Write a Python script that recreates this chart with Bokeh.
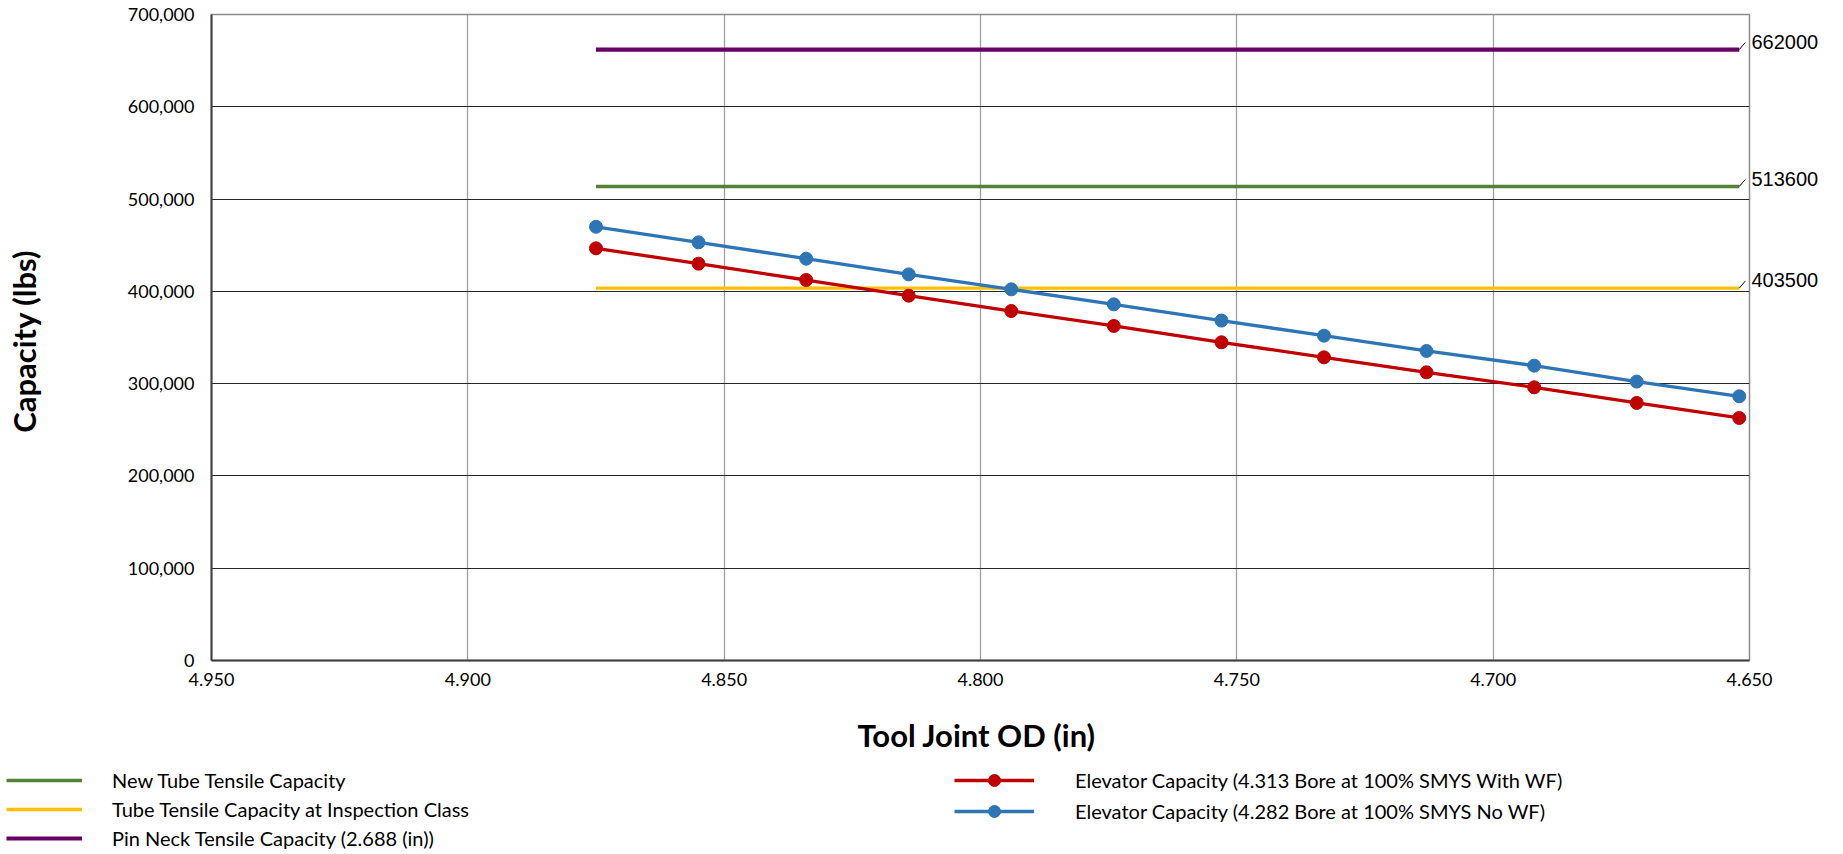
from bokeh.plotting import figure
from bokeh.models import (Range1d, FixedTicker, NumeralTickFormatter, Legend, LegendItem,
                          ColumnDataSource, LinearAxis)
from bokeh.layouts import column
from bokeh.embed import file_html
from bokeh.resources import INLINE

# ---- data ----
tool_joint_od = [4.875, 4.855, 4.834, 4.814, 4.794, 4.774, 4.753, 4.733, 4.713, 4.692, 4.672, 4.652]
elev_with_wf = [446600, 430000, 412300, 395300, 378700, 362500, 344800, 328500, 312300, 296000, 279100, 262800]
elev_no_wf = [470000, 453100, 435400, 418400, 402200, 385900, 368300, 352000, 335400, 319500, 302200, 286300]
new_tube_tensile = 513600
tube_tensile_inspection = 403500
pin_neck_tensile = 662000

x_ticks = [4.950, 4.900, 4.850, 4.800, 4.750, 4.700, 4.650]
y_ticks = [0, 100000, 200000, 300000, 400000, 500000, 600000, 700000]

names = {
    "new": "New Tube Tensile Capacity",
    "insp": "Tube Tensile Capacity at Inspection Class",
    "pin": "Pin Neck Tensile Capacity (2.688 (in))",
    "red": "Elevator Capacity (4.313 Bore at 100% SMYS With WF)",
    "blue": "Elevator Capacity (4.282 Bore at 100% SMYS No WF)",
}

GREEN = "#548235"
YELLOW = "#FFC000"
PURPLE = "#660066"
RED = "#C00000"
BLUE = "#2E75B6"
FONT = "Lato"

W = 1835
FW, FH = 1538, 646
LEFT, TOP = 211, 14
MAIN_H = 760
LEG_H = 92

x0, x1 = x_ticks[0], x_ticks[-1]
y0, y1 = y_ticks[0], y_ticks[-1]

p = figure(x_range=Range1d(x0, x1), y_range=Range1d(y0, y1),
           frame_width=FW, frame_height=FH,
           min_border_left=LEFT, min_border_right=W - LEFT - FW, min_border_top=TOP,
           min_border_bottom=MAIN_H - TOP - FH,
           output_backend="svg", toolbar_location=None,
           background_fill_color="white", border_fill_color="white")

p.outline_line_color = "#8C8C8C"
p.outline_line_width = 1.5

# axes
p.xaxis.ticker = FixedTicker(ticks=x_ticks)
p.yaxis.ticker = FixedTicker(ticks=y_ticks)
p.xaxis.formatter = NumeralTickFormatter(format="0.000")
p.yaxis.formatter = NumeralTickFormatter(format="0,0")
for ax in (p.xaxis[0], p.yaxis[0]):
    ax.major_tick_line_color = None
    ax.minor_tick_line_color = None
    ax.major_tick_out = 0
    ax.major_tick_in = 0
    ax.axis_line_color = "#404040"
    ax.axis_line_width = 2
    ax.major_label_text_font = FONT
    ax.major_label_text_font_size = "18px"
    ax.major_label_text_color = "black"
    ax.axis_label_text_font = FONT
    ax.axis_label_text_font_style = "bold"
    ax.axis_label_text_font_size = "31px"
    ax.axis_label_text_color = "black"
p.xaxis.major_label_standoff = 12
p.yaxis.major_label_standoff = 17
p.xaxis.axis_label = "Tool Joint OD  (in)"
p.yaxis.axis_label = "Capacity  (lbs)"
p.xaxis.axis_label_standoff = 27
p.yaxis.axis_label_standoff = 82

p.xgrid.ticker = FixedTicker(ticks=x_ticks)
p.ygrid.ticker = FixedTicker(ticks=y_ticks)
p.xgrid.grid_line_color = "#A0A0A0"
p.xgrid.grid_line_width = 1.3
p.ygrid.grid_line_color = "#262626"
p.ygrid.grid_line_width = 1

# horizontal capacity lines
xs_h = [tool_joint_od[0], tool_joint_od[-1]]
p.line(xs_h, [new_tube_tensile] * 2, line_color=GREEN, line_width=3.3)
p.line(xs_h, [tube_tensile_inspection] * 2, line_color=YELLOW, line_width=3.3)
p.line(xs_h, [pin_neck_tensile] * 2, line_color=PURPLE, line_width=4.2)

# elevator series
p.line(tool_joint_od, elev_with_wf, line_color=RED, line_width=3.3)
p.scatter(tool_joint_od, elev_with_wf, marker="circle", size=13, fill_color=RED, line_color=RED)
p.line(tool_joint_od, elev_no_wf, line_color=BLUE, line_width=3.3)
p.scatter(tool_joint_od, elev_no_wf, marker="circle", size=13, fill_color=BLUE, line_color=BLUE)

# value labels at right end (right axis) with small leader lines
dx_px = (x0 - x1) / FW
dy_px = (y1 - y0) / FH
vals = [pin_neck_tensile, new_tube_tensile, tube_tensile_inspection]
src = ColumnDataSource(dict(
    x=[tool_joint_od[-1]] * 3,
    y=vals,
    xe=[tool_joint_od[-1] - 6 * dx_px] * 3,
    ye=[v + 7 * dy_px for v in vals],
))
p.segment(x0="x", y0="y", x1="xe", y1="ye", source=src, line_color="black", line_width=1)

label_ticks = [int(round(v + 8 * dy_px)) for v in vals]
rax = LinearAxis(ticker=FixedTicker(ticks=label_ticks),
                 major_label_overrides={t: str(v) for t, v in zip(label_ticks, vals)})
rax.axis_line_color = None
rax.major_tick_line_color = None
rax.minor_tick_line_color = None
rax.major_tick_out = 0
rax.major_tick_in = 0
rax.major_label_standoff = 2
rax.major_label_text_font = "Liberation Sans"
rax.major_label_text_font_size = "20px"
rax.major_label_text_color = "black"
p.add_layout(rax, "right")

# ---- legend strip (separate figure below) ----
q = figure(x_range=Range1d(0, 1), y_range=Range1d(0, 1),
           frame_width=W, frame_height=LEG_H,
           min_border_left=0, min_border_right=0, min_border_top=0, min_border_bottom=0,
           output_backend="svg", toolbar_location=None,
           background_fill_color="white", border_fill_color="white")
q.axis.visible = False
q.grid.visible = False
q.outline_line_color = None

lx = [0.0, 1.0]
ly = [0.5, 0.5]
g_new = q.line(lx, ly, line_color=GREEN, line_width=3.3, visible=False)
g_insp = q.line(lx, ly, line_color=YELLOW, line_width=3.3, visible=False)
g_pin = q.line(lx, ly, line_color=PURPLE, line_width=4.2, visible=False)
g_red_l = q.line(lx, ly, line_color=RED, line_width=3.3, visible=False)
g_red_m = q.scatter(lx, ly, marker="circle", size=13, fill_color=RED, line_color=RED, visible=False)
g_blue_l = q.line(lx, ly, line_color=BLUE, line_width=3.3, visible=False)
g_blue_m = q.scatter(lx, ly, marker="circle", size=13, fill_color=BLUE, line_color=BLUE, visible=False)


def mk_legend(items, loc, gw, gh, sp, standoff):
    lg = Legend(items=items, location=loc, orientation="vertical")
    lg.padding = 0
    lg.margin = 0
    lg.border_line_color = None
    lg.background_fill_alpha = 0
    lg.inactive_fill_alpha = 0
    lg.glyph_width = gw
    lg.glyph_height = gh
    lg.label_height = gh
    lg.spacing = sp
    lg.label_standoff = standoff
    lg.label_text_font = FONT
    lg.label_text_font_size = "20px"
    lg.label_text_color = "black"
    lg.label_text_baseline = "middle"
    return lg


leg1 = mk_legend([
    LegendItem(label=names["new"], renderers=[g_new]),
    LegendItem(label=names["insp"], renderers=[g_insp]),
    LegendItem(label=names["pin"], renderers=[g_pin]),
], (6, 2), 76, 24, 5, 30)
leg2 = mk_legend([
    LegendItem(label=names["red"], renderers=[g_red_l, g_red_m]),
    LegendItem(label=names["blue"], renderers=[g_blue_l, g_blue_m]),
], (954, 26), 80, 30, 1, 41)
q.add_layout(leg1)
q.add_layout(leg2)

layout = column(p, q, spacing=0)
open("out.html", "w").write(file_html(layout, INLINE))
